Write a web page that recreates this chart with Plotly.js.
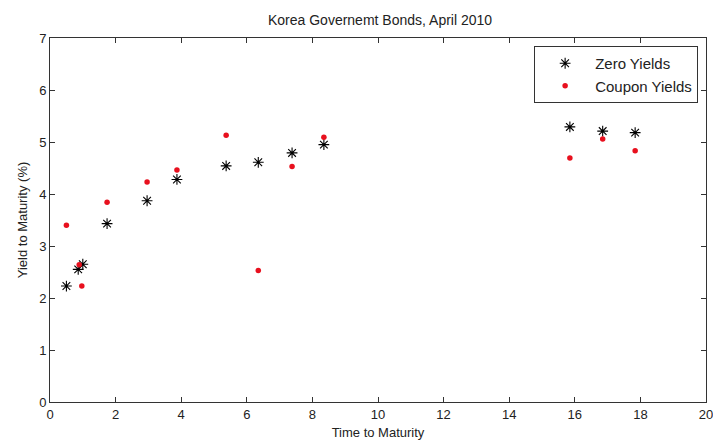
<!DOCTYPE html>
<html>
<head>
<meta charset="utf-8">
<script src="https://cdn.plot.ly/plotly-3.0.1.min.js"></script>
<style>html,body{margin:0;padding:0;background:#fff;}#chart{width:713px;height:443px;}</style>
</head>
<body>
<div id="chart"></div>
<script>
const zeroMaturity = [0.5, 0.86, 1.0, 1.74, 2.96, 3.87, 5.37, 6.35, 7.38, 8.35, 15.85, 16.85, 17.84];
const zeroYields   = [2.23, 2.55, 2.65, 3.43, 3.87, 4.28, 4.54, 4.61, 4.79, 4.95, 5.29, 5.21, 5.18];
const couponMaturity = [0.5, 0.89, 0.97, 1.74, 2.96, 3.87, 5.37, 6.35, 7.38, 8.35, 15.85, 16.85, 17.84];
const couponYields   = [3.40, 2.64, 2.23, 3.84, 4.23, 4.46, 5.13, 2.53, 4.53, 5.09, 4.69, 5.06, 4.83];
const xTicks = [0, 2, 4, 6, 8, 10, 12, 14, 16, 18, 20];
const yTicks = [0, 1, 2, 3, 4, 5, 6, 7];

const font = {family: 'Liberation Sans, Arial, sans-serif', size: 13, color: '#222'};

const traces = [
  {x: zeroMaturity, y: zeroYields, name: 'Zero Yields', mode: 'markers', type: 'scatter',
   marker: {symbol: 'asterisk-open', size: 9, color: '#000', line: {color: '#000', width: 1.1}}},
  {x: couponMaturity, y: couponYields, name: 'Coupon Yields', mode: 'markers', type: 'scatter',
   marker: {symbol: 'circle', size: 5.5, color: '#e8101e'}}
];

const axisCommon = {
  showgrid: false, zeroline: false, showline: true, linecolor: '#333', linewidth: 1,
  mirror: 'ticks', ticks: 'inside', ticklen: 5, tickcolor: '#333', tickfont: font,
  ticklabeloverflow: 'allow'
};

const layout = {
  width: 713, height: 443,
  margin: {l: 50, r: 7, t: 38, b: 41},
  paper_bgcolor: '#fff', plot_bgcolor: '#fff',
  font: font,
  title: {text: 'Korea Governemt Bonds, April 2010', font: {family: font.family, size: 14, color: '#222'},
          x: 0.533, xanchor: 'center', y: 0.955, yanchor: 'middle'},
  xaxis: Object.assign({}, axisCommon, {range: [0, 20], tickvals: xTicks, ticktext: xTicks.map(String),
          title: {text: 'Time to Maturity', font: font, standoff: 7}}),
  yaxis: Object.assign({}, axisCommon, {range: [0, 7], tickvals: yTicks, ticktext: yTicks.map(String),
          title: {text: 'Yield to Maturity (%)', font: font, standoff: 8}}),
  showlegend: true,
  legend: {x: 0.988, y: 0.978, xanchor: 'right', yanchor: 'top', bgcolor: '#fff',
           bordercolor: '#333', borderwidth: 1, font: {family: font.family, size: 15, color: '#222'},
           itemwidth: 50, tracegroupgap: 2}
};

Plotly.newPlot('chart', traces, layout, {staticPlot: true});
</script>
</body>
</html>
